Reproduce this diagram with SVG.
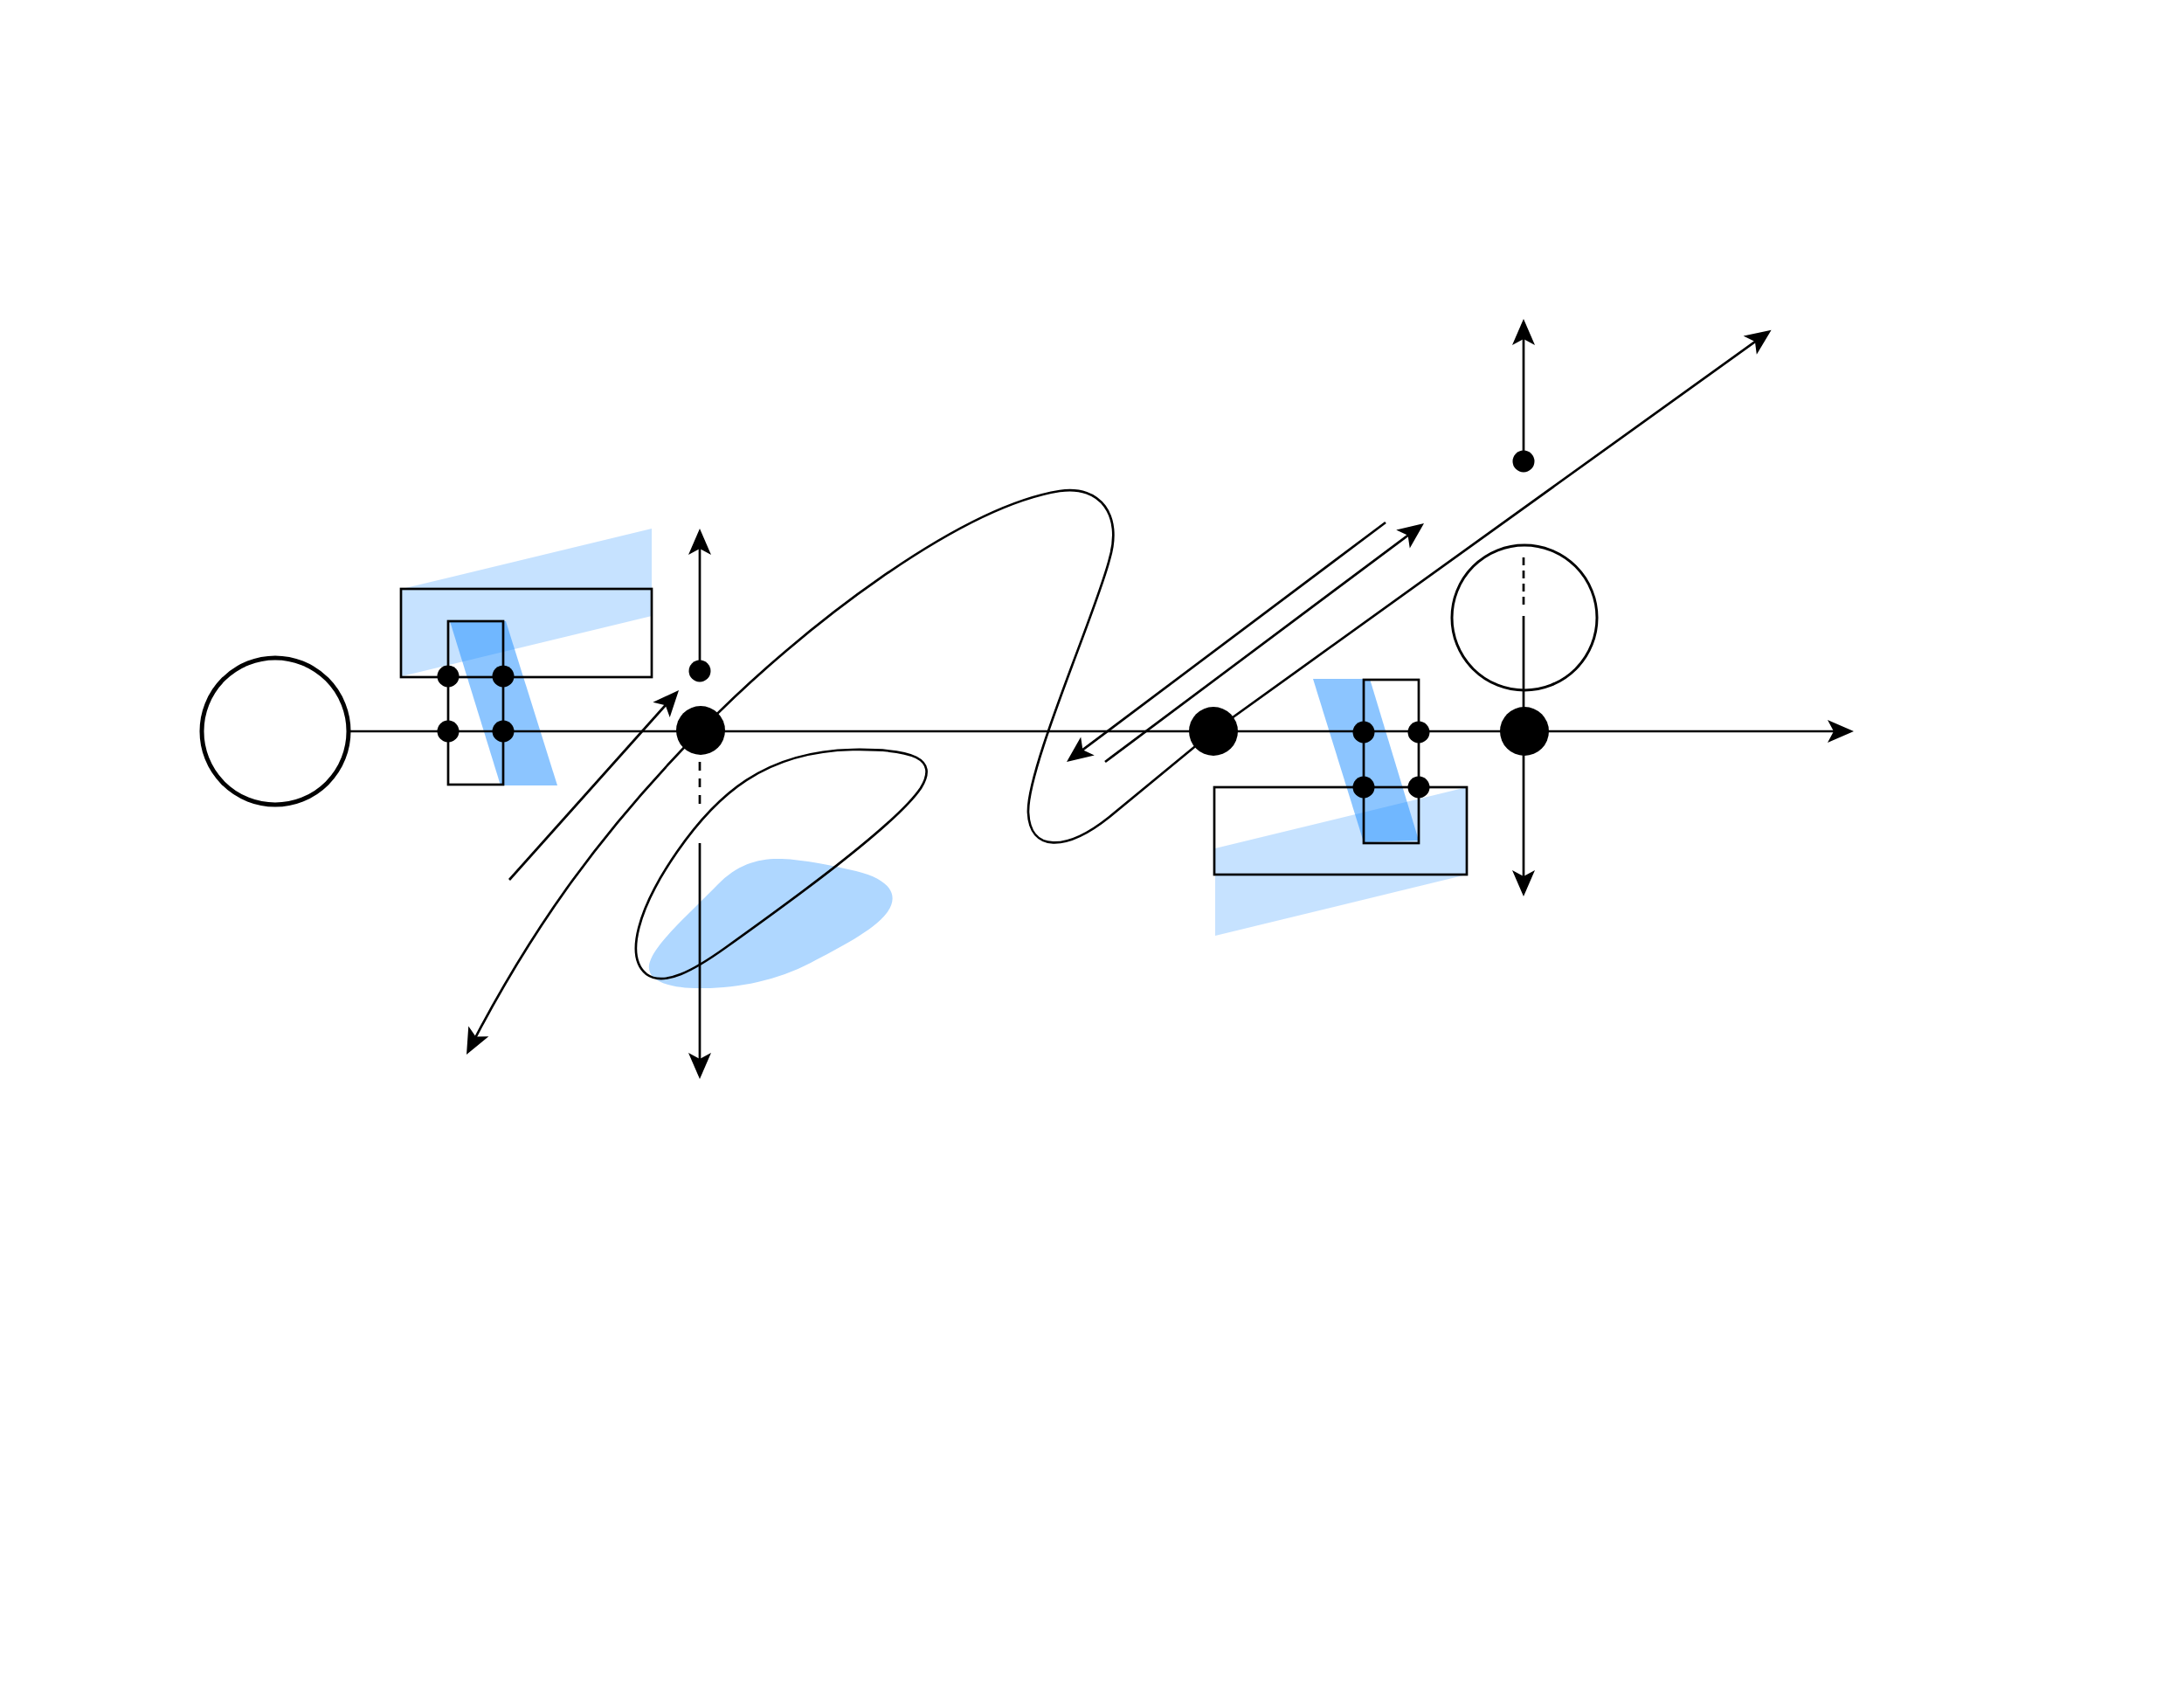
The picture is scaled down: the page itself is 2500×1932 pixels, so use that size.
<svg xmlns="http://www.w3.org/2000/svg" width="2500" height="1932" viewBox="0 0 2500 1932">
<style>
.ln{fill:none;stroke:#000;stroke-width:2.7}
.box{fill:none;stroke:#000;stroke-width:2.7}
.dash1{stroke-dasharray:10,9}
.dash2{stroke-dasharray:9,6}
.light{fill:#1a8cff;fill-opacity:0.25}
.dark{fill:#1a8cff;fill-opacity:0.5}
.blob{fill:#afd7ff}
.dot{fill:#000}
</style>
<defs>
<marker id="arr" markerUnits="userSpaceOnUse" markerWidth="40" markerHeight="30" viewBox="-24 -15 34 30" refX="0" refY="0" orient="auto-start-reverse">
<path d="M8,0 L-22,-13 L-15,0 L-22,13 Z" fill="#000"/>
</marker>
</defs>
<rect width="2500" height="1932" fill="#fff"/>
<g id="shading">
<polygon class="light" points="460,674 746,605 746,705 460,774"/>
<polygon class="dark" points="515,711 579,711 638,899 573,899"/>
<polygon class="light" points="1391,971 1679,901 1679,1001 1391,1071"/>
<polygon class="dark" points="1503,777 1568,777 1624,962 1561,964"/>
<path class="blob" d="M806,1131 C760,1132 735,1120 745,1098 C755,1075 790,1045 821,1013 C845,988 870,982 895,983 C920,984 950,990 980,997 C1020,1007 1030,1025 1015,1045 C1000,1065 960,1085 928,1102 C890,1122 845,1131 806,1131 Z"/>
</g>
<g id="connectors">
<line class="ln" x1="399" y1="837" x2="2114" y2="837" marker-end="url(#arr)"/>
<line class="ln" x1="801" y1="768" x2="801" y2="613" marker-end="url(#arr)"/>
<line class="ln dash1" x1="801" y1="872" x2="801" y2="928"/>
<line class="ln" x1="801" y1="965" x2="801" y2="1227" marker-end="url(#arr)"/>
<line class="ln" x1="583" y1="1007" x2="771.7" y2="796" marker-end="url(#arr)"/>
<line class="ln" x1="1744" y1="528" x2="1744" y2="373" marker-end="url(#arr)"/>
<line class="ln dash2" x1="1744" y1="638" x2="1744" y2="695"/>
<line class="ln" x1="1744" y1="705" x2="1744" y2="1018" marker-end="url(#arr)"/>
<line class="ln" x1="1586" y1="598" x2="1227.4" y2="867.2" marker-end="url(#arr)"/>
<line class="ln" x1="1265" y1="872" x2="1623.6" y2="603.8" marker-end="url(#arr)"/>
<path class="ln" d="M537.7,1199.9 C610,1060 690,950 802,836 C920,715 1100,580 1213,562 C1260,555 1285,590 1270,640 C1255,700 1175,880 1177,930 C1179,975 1220,975 1270,935 L1389,837 L2021.1,382.3" marker-start="url(#arr)" marker-end="url(#arr)"/>
<path class="ln" d="M976,858 C1045,857 1075,868 1054,902 C1025,945 900,1035 830,1085 C795,1110 760,1130 740,1115 C715,1095 730,1040 775,975 C820,910 875,860 976,858 Z"/>
</g>
<g id="node-start"><circle cx="315" cy="837" r="84" fill="none" stroke="#000" stroke-width="5"/></g>
<g id="node-left-box"><rect class="box" x="459" y="674" width="287" height="101"/></g>
<g id="node-left-column"><rect class="box" x="513" y="711" width="63" height="187"/></g>
<g id="node-left-dots">
<circle class="dot" cx="513" cy="774" r="12.5"/>
<circle class="dot" cx="576" cy="774" r="12.5"/>
<circle class="dot" cx="513" cy="837" r="12.5"/>
<circle class="dot" cx="576" cy="837" r="12.5"/>
</g>
<g id="node-top-dot-1"><circle class="dot" cx="801" cy="768" r="12.5"/></g>
<g id="node-junction-1"><circle class="dot" cx="802" cy="836" r="28"/></g>
<g id="node-junction-2"><circle class="dot" cx="1389" cy="837" r="28"/></g>
<g id="node-right-box"><rect class="box" x="1390" y="901" width="289" height="100"/></g>
<g id="node-right-column"><rect class="box" x="1561" y="778" width="63" height="187"/></g>
<g id="node-right-dots">
<circle class="dot" cx="1561" cy="838" r="12.5"/>
<circle class="dot" cx="1624" cy="838" r="12.5"/>
<circle class="dot" cx="1561" cy="901" r="12.5"/>
<circle class="dot" cx="1624" cy="901" r="12.5"/>
</g>
<g id="node-junction-3"><circle class="dot" cx="1745" cy="837" r="28"/></g>
<g id="node-right-circle"><circle cx="1745" cy="707" r="83" fill="none" stroke="#000" stroke-width="3"/></g>
<g id="node-top-dot-2"><circle class="dot" cx="1744" cy="528" r="12.5"/></g>
</svg>
